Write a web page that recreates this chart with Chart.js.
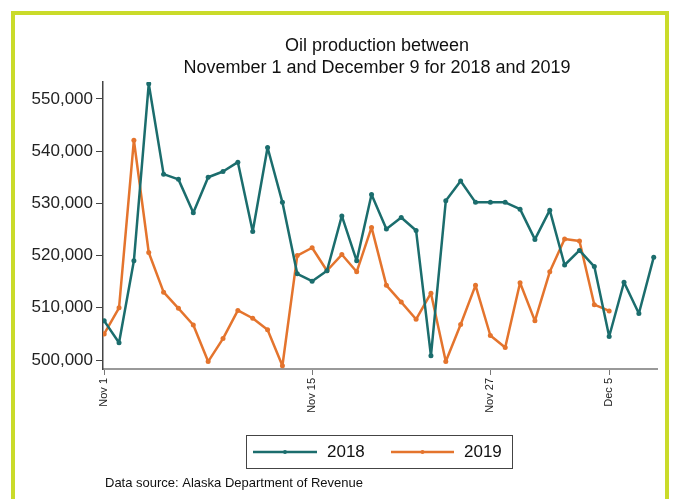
<!DOCTYPE html>
<html>
<head>
<meta charset="utf-8">
<script src="https://cdn.jsdelivr.net/npm/chart.js@4/dist/chart.umd.min.js"></script>
<style>
html, body { margin: 0; padding: 0; background: #fff; }
#wrap { position: relative; width: 675px; height: 499px; overflow: hidden; }
#frame { position: absolute; left: 11px; top: 11px; width: 650px; height: 600px; border: 4px solid #cadb2a; }
canvas { position: absolute; left: 0; top: 0; }
</style>
</head>
<body>
<div id="wrap"><div id="frame"></div><canvas id="oilChart" width="675" height="499"></canvas></div>
<script>
// day offset from Nov 1 -> barrels per day
const prod2018 = [507500, 503300, 519000, 552900, 535600, 534600, 528200, 535000, 536100, 537900,
    524600, 540700, 530200, 516500, 515100, 517100, 527600, 519000, 531700, 525100,
    527300, 524800, 500800, 530500, 534300, 530200, 530200, 530200, 528900, 523100,
    528700, 518200, 521000, 517900, 504500, 514900, 508900, 519700];
const prod2019 = [505000, 510000, 542100, 520600, 513000, 509900, 506700, 499700, 504100, 509500,
    508000, 505800, 498900, 520000, 521500, 517100, 520200, 516900, 525400, 514300,
    511100, 507800, 512800, 499700, 506800, 514300, 504700, 502400, 514800, 507500,
    516900, 523200, 522800, 510600, 509400];
const tickDays = [0, 14, 26, 34];
const tickLabels = ['Nov 1', 'Nov 15', 'Nov 27', 'Dec 5'];
const yTicks = [500000, 510000, 520000, 530000, 540000, 550000];

const TEAL = '#1b6d6d';
const ORANGE = '#e4742d';
const FONT = '"Liberation Sans", Arial, sans-serif';

const toPoints = arr => arr.map((v, i) => ({ x: i, y: v }));

const extras = {
    id: 'extras',
    afterDraw(chart) {
        const ctx = chart.ctx;
        ctx.save();
        ctx.fillStyle = '#111';
        ctx.textAlign = 'center';
        ctx.textBaseline = 'middle';
        ctx.font = '18px ' + FONT;
        ctx.fillText('Oil production between', 377, 46);
        ctx.fillText('November 1 and December 9 for 2018 and 2019', 377, 68);

        // legend box
        ctx.strokeStyle = '#444';
        ctx.lineWidth = 1;
        ctx.strokeRect(246.5, 435.5, 266, 33);
        const entries = [[253, 317, 327], [391, 454, 464]];
        chart.data.datasets.forEach((ds, k) => {
            const [x0, x1, tx] = entries[k];
            ctx.strokeStyle = ds.borderColor;
            ctx.lineWidth = 2.5;
            ctx.beginPath();
            ctx.moveTo(x0, 452);
            ctx.lineTo(x1, 452);
            ctx.stroke();
            ctx.fillStyle = ds.borderColor;
            ctx.beginPath();
            ctx.arc((x0 + x1) / 2, 452, 2, 0, Math.PI * 2);
            ctx.fill();
            ctx.fillStyle = '#111';
            ctx.textAlign = 'left';
            ctx.font = '17px ' + FONT;
            ctx.fillText(ds.label, tx, 452);
        });

        ctx.font = '13px ' + FONT;
        ctx.fillStyle = '#111';
        ctx.textAlign = 'left';
        ctx.fillText('Data source: Alaska Department of Revenue', 105, 483);
        ctx.restore();
    }
};

const lineStyle = { borderWidth: 2.5, pointRadius: 2.5, pointBorderWidth: 0, tension: 0, borderJoinStyle: 'round', borderCapStyle: 'round' };

new Chart(document.getElementById('oilChart'), {
    type: 'line',
    data: {
        datasets: [
            { label: '2018', data: toPoints(prod2018), borderColor: TEAL, backgroundColor: TEAL, ...lineStyle },
            { label: '2019', data: toPoints(prod2019), borderColor: ORANGE, backgroundColor: ORANGE, ...lineStyle }
        ]
    },
    options: {
        responsive: false,
        animation: false,
        layout: { padding: { top: 82, right: 18, bottom: 0, left: 0 } },
        scales: {
            x: {
                type: 'linear',
                min: -0.08,
                max: 37.22,
                afterBuildTicks: s => { s.ticks = tickDays.map(v => ({ value: v })); },
                afterFit: s => { s.height = 130; },
                grid: { drawOnChartArea: false, tickLength: 6, color: '#777' },
                border: { color: '#999', width: 2 },
                ticks: {
                    autoSkip: false, maxRotation: 90, minRotation: 90, padding: 3,
                    color: '#222', font: { family: FONT, size: 11 },
                    callback: v => tickLabels[tickDays.indexOf(v)]
                }
            },
            y: {
                min: 498280,
                max: 553250,
                afterBuildTicks: s => { s.ticks = yTicks.map(v => ({ value: v })); },
                afterFit: s => { s.width = 103; },
                grid: { drawOnChartArea: false, tickLength: 7, color: '#444' },
                border: { color: '#444', width: 1.5 },
                ticks: {
                    padding: 3, color: '#222', font: { family: FONT, size: 17 },
                    callback: v => v.toLocaleString('en-US')
                }
            }
        },
        plugins: { legend: { display: false }, title: { display: false }, tooltip: { enabled: false } }
    },
    plugins: [extras]
});
</script>
</body>
</html>
